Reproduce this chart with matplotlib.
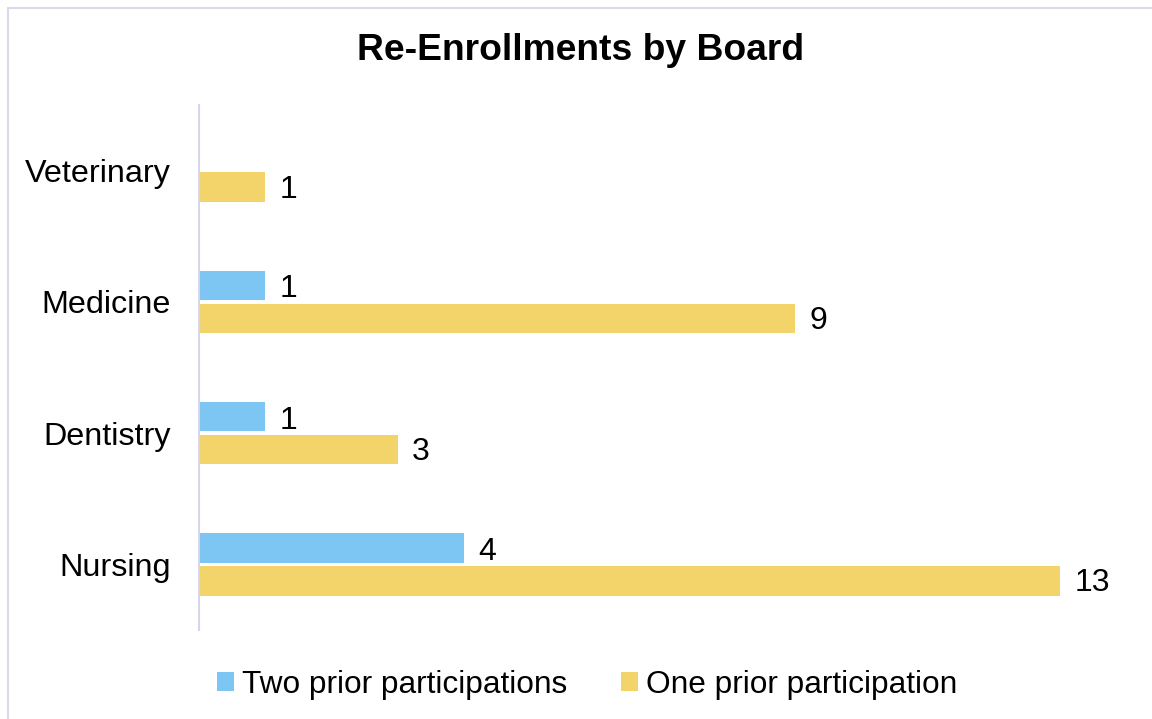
import numpy as np
import matplotlib.pyplot as plt
import matplotlib.patches as patches

plt.rcParams['font.family'] = ['Liberation Sans', 'DejaVu Sans']

# Data (top to bottom as shown)
boards = ['Veterinary', 'Medicine', 'Dentistry', 'Nursing']
two_prior = [0, 1, 1, 4]
one_prior = [1, 9, 3, 13]
series_names = ['Two prior participations', 'One prior participation']

blue = '#7DC5F2'
yellow = '#F2D46B'

fig = plt.figure(figsize=(11.52, 7.19), dpi=100)
ax = fig.add_axes([199 / 1152, 1 - 630 / 719, (1126 - 199) / 1152, (630 - 105) / 719])

y = np.arange(len(boards))
h = 0.225
off = 0.125

# no blue bar for a zero value
two_vals = [v if v > 0 else np.nan for v in two_prior]
b1 = ax.barh(y - off, two_vals, height=h, color=blue, label=series_names[0])
b2 = ax.barh(y + off, one_prior, height=h, color=yellow, label=series_names[1])

for yy, v in zip(y, two_prior):
    if v > 0:
        ax.text(v + 0.22, yy - off + 0.03, str(v), va='center', ha='left', fontsize=23)
for yy, v in zip(y, one_prior):
    ax.text(v + 0.22, yy + off + 0.02, str(v), va='center', ha='left', fontsize=23)

ax.set_xlim(0, 14)
ax.set_ylim(3.5, -0.5)
ax.set_yticks(y)
ax.set_yticklabels(boards, fontsize=23.3)
ax.tick_params(axis='y', length=0, pad=20)
ax.set_xticks([])
for s in ['top', 'right', 'bottom']:
    ax.spines[s].set_visible(False)
ax.spines['left'].set_color('#D6D6EA')
ax.spines['left'].set_linewidth(1.5)

fig.text(581 / 1152, 1 - 50 / 719, 'Re-Enrollments by Board', ha='center', va='center',
         fontsize=26.8, fontweight='bold')

fig.legend(handles=[b1, b2], loc='center', bbox_to_anchor=(587 / 1152, 1 - 685 / 719), ncol=2,
           frameon=False, fontsize=22.8, handlelength=0.55, handleheight=0.55,
           handletextpad=0.25, columnspacing=1.7)

# outer chart border
fig.patches.append(patches.Rectangle((8 / 1152, -0.1), 1.2, 1.1 - 8 / 719, fill=False,
                                     edgecolor='#D9D9EE', linewidth=1.5,
                                     transform=fig.transFigure, figure=fig))

plt.savefig('out.png', dpi=100)
